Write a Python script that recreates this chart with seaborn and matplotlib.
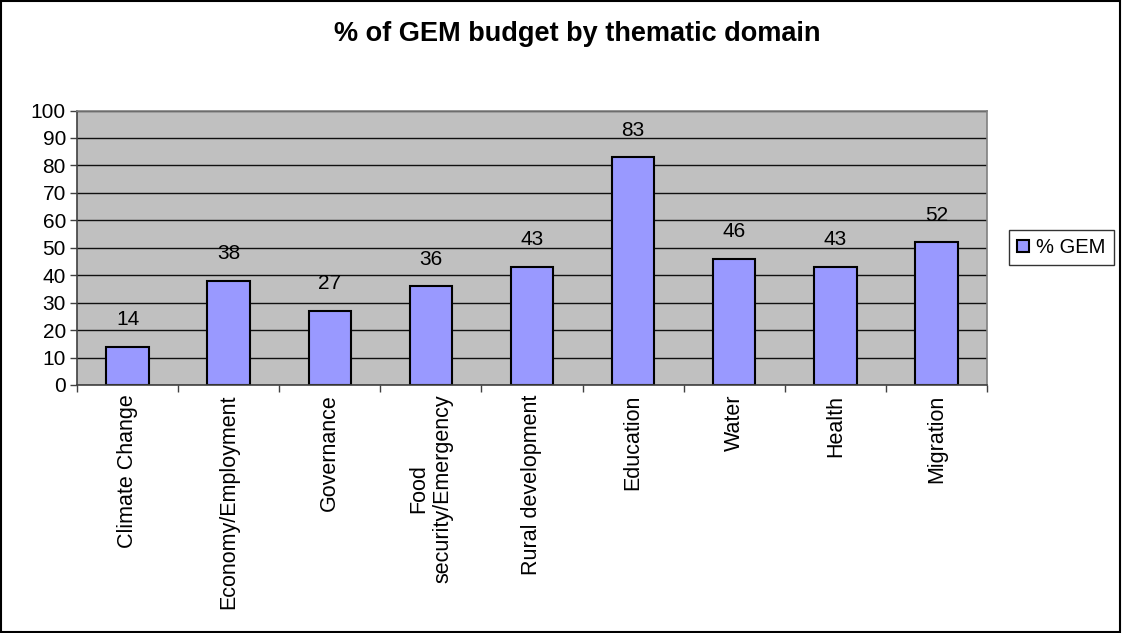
import matplotlib
matplotlib.use("Agg")
import matplotlib.pyplot as plt
from matplotlib.patches import Patch, Rectangle
import seaborn as sns

categories = ["Climate Change", "Economy/Employment", "Governance",
              "Food\nsecurity/Emergency", "Rural development", "Education",
              "Water", "Health", "Migration"]
values = [14, 38, 27, 36, 43, 83, 46, 43, 52]
series_name = "% GEM"
title = "% of GEM budget by thematic domain"
y_ticks = [0, 10, 20, 30, 40, 50, 60, 70, 80, 90, 100]

sns.set_style("white")
plt.rcParams["font.family"] = ["Liberation Sans", "DejaVu Sans"]
plt.rcParams["text.color"] = "black"
plt.rcParams["xtick.labelcolor"] = "black"
plt.rcParams["ytick.labelcolor"] = "black"

fig = plt.figure(figsize=(11.22, 6.33), dpi=100)
ax = fig.add_axes([77 / 1122, 1 - 385 / 633, (987 - 77) / 1122, (385 - 110.5) / 633])
ax.set_facecolor("#C0C0C0")

bar_color = "#9999FF"
sns.barplot(x=categories, y=values, ax=ax, color=bar_color, width=0.42,
            edgecolor="black", linewidth=1.5, saturation=1)

ax.set_ylim(0, 100)
ax.set_xlim(-0.5, len(categories) - 0.5)
ax.set_yticks(y_ticks)
ax.set_yticklabels([str(t) for t in y_ticks], fontsize=15)
ax.yaxis.grid(True, color="#101010", linewidth=1)
ax.set_axisbelow(True)

# category labels at bar centres, tick marks on category boundaries
ax.set_xticks([i - 0.5 for i in range(len(categories) + 1)])
ax.set_xticklabels([])
ax.set_xticks(range(len(categories)), minor=True)
ax.set_xticklabels(categories, minor=True, rotation=90, fontsize=15.5,
                   va="top", ha="center", multialignment="center")
ax.tick_params(axis="x", which="minor", length=0, pad=7)
ax.tick_params(axis="x", which="major", length=5, width=1, color="#404040",
               direction="out", bottom=True)
ax.tick_params(axis="y", length=5, width=1, color="#404040", direction="out",
               left=True, pad=3)
ax.set_xlabel("")
ax.set_ylabel("")

for side in ["left", "bottom"]:
    ax.spines[side].set_color("#404040")
    ax.spines[side].set_linewidth(1.2)
for side in ["top", "right"]:
    ax.spines[side].set_color("#808080")
    ax.spines[side].set_linewidth(1.2)

# value labels above each bar
for i, v in enumerate(values):
    ax.annotate(str(v), xy=(i, v), xytext=(0, 15.5), textcoords="offset points",
                ha="center", va="baseline", fontsize=15)

fig.text(577 / 1122, 1 - 34 / 633, title, ha="center", va="center",
         fontsize=19.5, fontweight="bold")

handle = Patch(facecolor=bar_color, edgecolor="black", linewidth=1.5)
leg = fig.legend([handle], [series_name], loc="center left",
                 bbox_to_anchor=(1009 / 1122, 1 - 247.5 / 633), fontsize=14.5,
                 frameon=True, fancybox=False, edgecolor="black",
                 handlelength=0.6, handleheight=0.6, handletextpad=0.35,
                 borderpad=0.4, borderaxespad=0)
leg.get_frame().set_linewidth(1)

fig.patches.append(Rectangle((0.001, 0.002), 0.997, 0.996, transform=fig.transFigure,
                             fill=False, edgecolor="black", linewidth=1.5))

fig.savefig("out.png", dpi=100)
